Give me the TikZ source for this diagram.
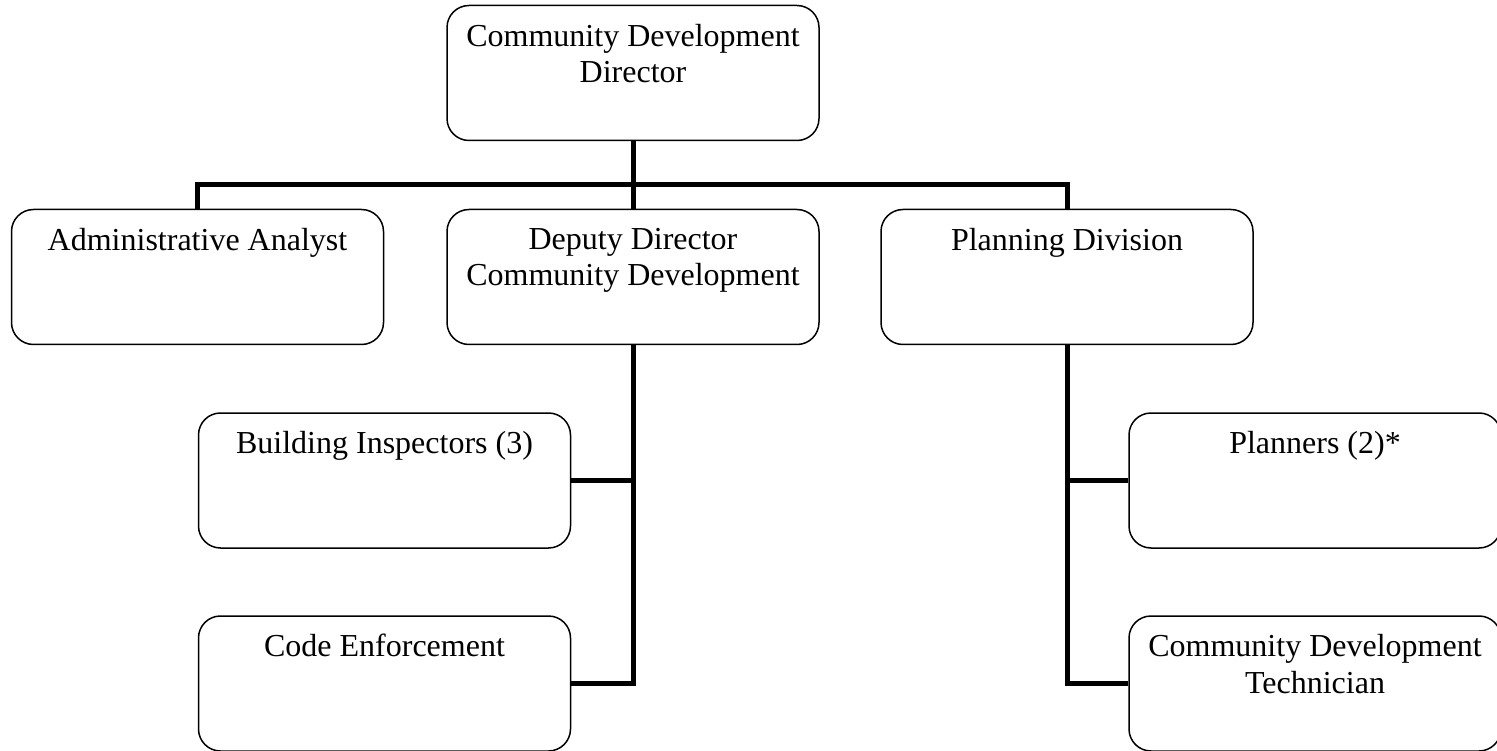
\documentclass[tikz,border=0pt]{standalone}
\usepackage{fontspec}
\setmainfont{Liberation Serif}

\tikzset{
  unit/.style={draw, line width=1.5pt, rounded corners=22pt,
    minimum width=372pt, minimum height=135pt, inner sep=0pt},
  title/.style={anchor=north, inner sep=0pt, yshift=-19pt, align=center,
    font=\fontsize{32}{36.8}\selectfont},
  link/.style={line width=5pt}
}

\begin{document}
\begin{tikzpicture}[x=1pt, y=-1pt]
  \useasboundingbox (0,0) rectangle (1497,751);

  % boxes
  \node[unit] (dir) at (633,73) {};
  \node[title] (dirt) at (dir.north) {Community Development\\Director};
  \node[unit] (aa) at (197.5,277) {};
  \node[title] (aat) at (aa.north) {Administrative Analyst};
  \node[unit] (dep) at (633,277) {};
  \node[title] (dept) at (dep.north) {Deputy Director\\Community Development};
  \node[unit] (pd) at (1067,277) {};
  \node[title] (pdt) at (pd.north) {Planning Division};
  \node[unit] (bi) at (384.5,480.5) {};
  \node[title] (bit) at (bi.north) {Building Inspectors (3)};
  \node[unit] (ce) at (384.5,683.5) {};
  \node[title] (cet) at (ce.north) {Code Enforcement};
  \node[unit] (pl) at (1315,480.5) {};
  \node[title] (plt) at (pl.north) {Planners (2)*};
  \node[unit] (tech) at (1315,683.5) {};
  \node[title] (techt) at (tech.north) {Community Development\\Technician};

  % connectors
  \coordinate (hub) at (633,185);
  \draw[link] (dir.south) -- (dep.north);
  \draw[link] (aa.north) |- (hub) -| (pd.north);
  \draw[link] (dep.south) |- (ce.east);
  \draw[link] (bi.east) -- (bi.east -| dep.south);
  \draw[link] (pd.south) |- (tech.west);
  \draw[link] (pl.west) -- (pl.west -| pd.south);
\end{tikzpicture}
\end{document}
